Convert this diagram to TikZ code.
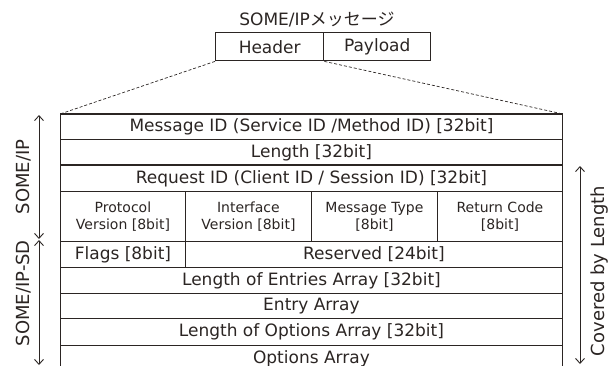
\documentclass[tikz,border=0pt]{standalone}
\usepackage{fontspec}
\setmainfont{DejaVu Sans}
\newfontfamily\jpfont{Noto Sans CJK JP}
\usetikzlibrary{arrows.meta}
\definecolor{ink}{HTML}{2B2523}
\tikzset{
  cell/.style={draw=ink, line width=0.9pt, text=ink, inner sep=0pt, font=\fontsize{17}{18}\selectfont, anchor=north west},
  smallcell/.style={cell, font=\fontsize{14}{17}\selectfont, align=center},
  topbox/.style={draw=ink, line width=1.4pt, text=ink, inner sep=0pt, font=\fontsize{17}{18}\selectfont, anchor=north west},
  dim/.style={draw=ink, line width=0.9pt, {Straight Barb[length=5pt,width=9pt]}-{Straight Barb[length=5pt,width=9pt]}},
  sidelabel/.style={text=ink, rotate=90, inner sep=0pt, font=\fontsize{18}{19}\selectfont},
  zoomline/.style={draw=ink, line width=0.7pt, dash pattern=on 3pt off 2pt}
}
\begin{document}
\begin{tikzpicture}[x=1pt,y=-1pt]
\clip (0,0) rectangle (616,365);
% top message
\node[text=ink, font=\fontsize{17}{18}\selectfont, inner sep=0pt] (title) at (317,20) {SOME/IP{\jpfont メッセージ}};
\node[topbox, minimum width=108pt, minimum height=28pt] (hdr) at (215,32) {Header};
\node[topbox, minimum width=107pt, minimum height=28pt] (pay) at (323,32) {Payload};
% rows
\node[cell, minimum width=502pt, minimum height=25pt] (r1) at (60,114) {Message ID (Service ID /Method ID) [32bit]};
\node[cell, minimum width=502pt, minimum height=26pt] (r2) at (60,139) {Length [32bit]};
\node[cell, minimum width=502pt, minimum height=26pt] (r3) at (60,165) {Request ID (Client ID / Session ID) [32bit]};
\node[smallcell, minimum width=125pt, minimum height=50pt] (c1) at (60,191) {Protocol\\Version [8bit]};
\node[smallcell, minimum width=126pt, minimum height=50pt] (c2) at (185,191) {Interface\\Version [8bit]};
\node[smallcell, minimum width=126pt, minimum height=50pt] (c3) at (311,191) {Message Type\\{[8bit]}};
\node[smallcell, minimum width=125pt, minimum height=50pt] (c4) at (437,191) {Return Code\\{[8bit]}};
\node[cell, minimum width=125pt, minimum height=26pt] (f1) at (60,241) {Flags [8bit]};
\node[cell, minimum width=377pt, minimum height=26pt] (f2) at (185,241) {Reserved [24bit]};
\node[cell, minimum width=502pt, minimum height=26pt] (r6) at (60,267) {Length of Entries Array [32bit]};
\node[cell, minimum width=502pt, minimum height=25pt] (r7) at (60,293) {Entry Array};
\node[cell, minimum width=502pt, minimum height=27pt] (r8) at (60,318) {Length of Options Array [32bit]};
\node[cell, minimum width=502pt, minimum height=26pt] (r9) at (60,345) {Options Array};
% thick separators
\draw[ink, line width=1.4pt] (r1.north west) -- (r1.north east);
\draw[ink, line width=1.8pt] (r3.north west) -- (r3.north east);
% zoom lines
\draw[zoomline] (hdr.south west) -- (r1.north west);
\draw[zoomline] (hdr.south east) -- (r1.north east);
% side dimension arrows
\coordinate (a1) at (39,115);
\coordinate (a2) at (39,239);
\coordinate (a3) at (39,240);
\coordinate (a4) at (39,365);
\coordinate (b1) at (580,166);
\coordinate (b2) at (580,364);
\draw[dim] (a1) -- (a2);
\draw[dim] (a3) -- (a4);
\draw[dim] (b1) -- (b2);
\node[sidelabel] (l1) at (24,177) {SOME/IP};
\node[sidelabel, anchor=east] (l2) at (24,240) {SOME/IP-SD};
\node[sidelabel] (l3) at (600,271) {Covered by Length};
\end{tikzpicture}
\end{document}
